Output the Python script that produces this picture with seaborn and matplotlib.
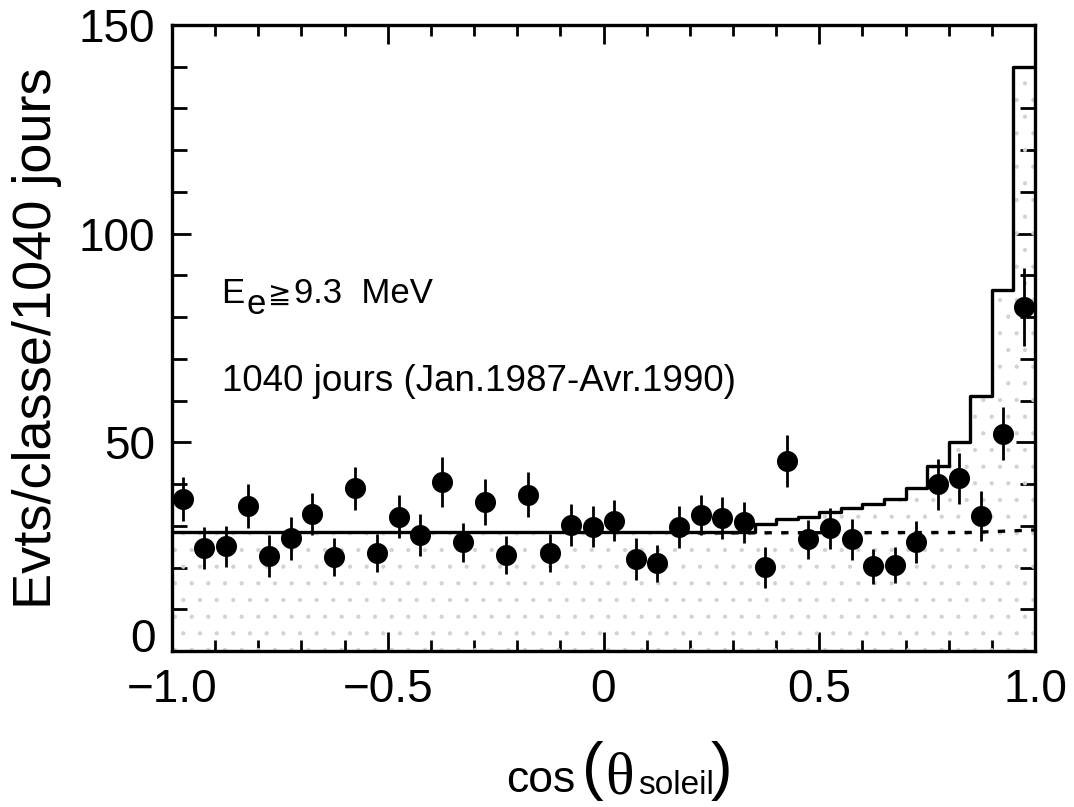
import numpy as np
import pandas as pd
import matplotlib
matplotlib.use('Agg')
import matplotlib.pyplot as plt
from matplotlib.ticker import MultipleLocator, FixedLocator
from matplotlib.transforms import ScaledTranslation
import seaborn as sns

# bin centres of cos(theta_sun), 40 classes of 0.05
cos_centers = [-0.975, -0.925, -0.875, -0.825, -0.775, -0.725, -0.675, -0.625,
               -0.575, -0.525, -0.475, -0.425, -0.375, -0.325, -0.275, -0.225,
               -0.175, -0.125, -0.075, -0.025, 0.025, 0.075, 0.125, 0.175,
               0.225, 0.275, 0.325, 0.375, 0.425, 0.475, 0.525, 0.575,
               0.625, 0.675, 0.725, 0.775, 0.825, 0.875, 0.925, 0.975]
# measured events per class
counts = [36.4, 24.7, 25.1, 34.8, 22.7, 27.0, 32.9, 22.5, 39.0, 23.5,
          32.2, 27.8, 40.5, 26.0, 35.7, 23.0, 37.5, 23.5, 30.2, 29.8,
          31.2, 22.1, 21.0, 29.8, 32.6, 31.8, 30.8, 20.1, 45.5, 26.8,
          29.4, 26.8, 20.3, 20.6, 26.2, 39.9, 41.4, 32.4, 52.1, 82.4]
errors = [5.2, 5.0, 4.9, 5.3, 5.0, 5.1, 5.0, 4.5, 5.2, 4.6,
          5.2, 5.1, 6.0, 4.6, 5.4, 4.5, 5.3, 4.5, 5.0, 4.9,
          4.9, 5.0, 4.4, 5.0, 4.8, 5.0, 4.9, 4.9, 6.3, 4.7,
          4.9, 4.9, 4.2, 4.4, 5.0, 6.0, 6.1, 6.0, 6.4, 9.3]

# expectation (background + solar signal), step histogram
expect_edges = [-1.0, 0.35, 0.40, 0.45, 0.50, 0.55, 0.60, 0.65, 0.70,
                0.75, 0.80, 0.85, 0.90, 0.95, 1.0]
expect_levels = [28.4, 30.4, 31.6, 32.2, 33.2, 34.2, 35.3, 36.5, 39.0,
                 44.4, 50.1, 61.0, 86.4, 140.0, 140.0]

# background only (dashed)
bg_x = [0.18, 0.85, 1.0]
bg_y = [28.3, 28.4, 29.0]

xtick_vals = [-1.0, -0.5, 0.0, 0.5, 1.0]
xtick_labels = ['\u22121.0', '\u22120.5', '0', '0.5', '1.0']
ytick_vals = [0, 50, 100, 150]

sns.set_theme(style='ticks')
plt.rcParams['font.family'] = ['Liberation Sans', 'DejaVu Sans']
plt.rcParams['hatch.linewidth'] = 0.6
plt.rcParams['text.color'] = 'black'

W, H = 1074, 807
fig = plt.figure(figsize=(W / 100, H / 100), dpi=100)
ax = fig.add_axes([172 / W, 1 - 651 / H, (1035 - 172) / W, (651 - 25) / H])

data = pd.DataFrame({'cos': cos_centers, 'n': counts, 'err': errors})
expect = pd.DataFrame({'cos': expect_edges, 'n': expect_levels})
bg = pd.DataFrame({'cos': bg_x, 'n': bg_y})

# stippled area under the expectation
ax.fill_between(expect['cos'], 0, expect['n'], step='post', facecolor='none',
                edgecolor='#d2d2d2', hatch='.', linewidth=0, zorder=1)

sns.lineplot(data=expect, x='cos', y='n', ax=ax, color='black', lw=2.4,
             drawstyle='steps-post', estimator=None, sort=False, zorder=3)
sns.lineplot(data=bg, x='cos', y='n', ax=ax, color='black', lw=2.4,
             linestyle=(0, (2.2, 2.8)), estimator=None, sort=False, zorder=3)

ax.errorbar(data['cos'], data['n'], yerr=data['err'], fmt='none',
            ecolor='black', elinewidth=2.0, capsize=0, zorder=4)
sns.scatterplot(data=data, x='cos', y='n', ax=ax, s=230, color='black',
                edgecolor='black', linewidth=0, zorder=5)

ax.set_xlim(-1.0, 1.0)
ax.set_ylim(0, 150)
ax.xaxis.set_major_locator(FixedLocator(xtick_vals))
ax.set_xticklabels(xtick_labels)
ax.xaxis.set_minor_locator(MultipleLocator(0.1))
ax.yaxis.set_major_locator(FixedLocator(ytick_vals))
ax.set_yticklabels([str(v) for v in ytick_vals])
ax.yaxis.set_minor_locator(MultipleLocator(10))
ax.tick_params(which='both', direction='in', top=True, right=True,
               width=2, colors='black')
ax.tick_params(which='major', length=14, labelsize=33, pad=12)
ax.tick_params(which='minor', length=8)
ax.tick_params(axis='y', which='minor', length=11)
for sp in ax.spines.values():
    sp.set_linewidth(2.4)
    sp.set_color('black')

# the "0" of the y axis sits a little higher in the original
zero_lab = ax.yaxis.get_major_ticks()[0].label1
zero_lab.set_transform(zero_lab.get_transform()
                       + ScaledTranslation(0, 0.16, fig.dpi_scale_trans))

ax.set_xlabel('')
ax.set_ylabel('Evts/classe/1040 jours', fontsize=39, color='black')
ax.yaxis.set_label_coords(-0.128, 0.5)

def fx(px):
    return px / W

def fy(py):
    return 1 - py / H

# annotations inside the frame
fig.text(fx(221), fy(303), 'E', fontsize=25, va='baseline')
fig.text(fx(246), fy(314), 'e', fontsize=25, va='baseline')
fig.text(fx(268), fy(304), '\u2267', fontsize=20, va='baseline',
         family=['DejaVu Sans'])
fig.text(fx(294), fy(303), '9.3  MeV', fontsize=25, va='baseline')
fig.text(fx(222), fy(391), '1040 jours (Jan.1987-Avr.1990)', fontsize=26.5,
         va='baseline')

# x axis title: cos(theta_soleil)
fig.text(fx(506), fy(792), 'cos', fontsize=32, va='baseline')
fig.text(fx(582), fy(788), '(', fontsize=47, va='baseline')
fig.text(fx(605), fy(793), '\u03b8', fontsize=43, va='baseline',
         family=['Liberation Serif'])
fig.text(fx(638), fy(794), 'soleil', fontsize=24, va='baseline')
fig.text(fx(711), fy(788), ')', fontsize=47, va='baseline')

fig.savefig('out.png', dpi=100, facecolor='white')
